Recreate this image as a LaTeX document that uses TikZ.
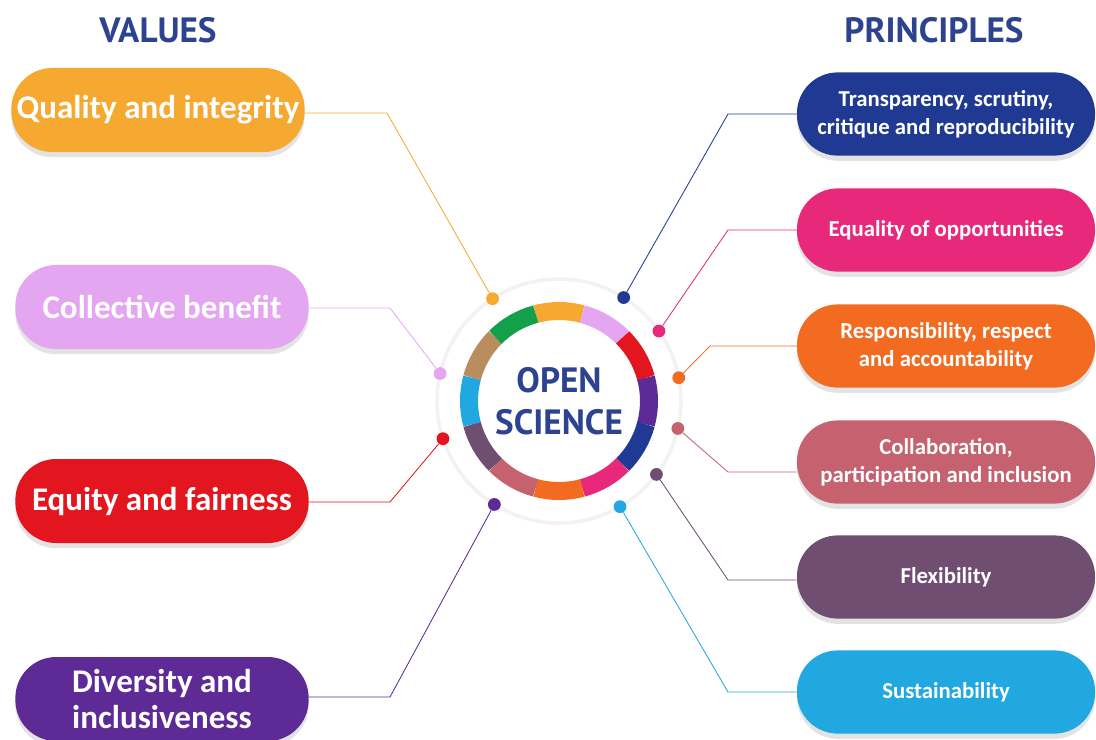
\documentclass[tikz,border=0pt]{standalone}
\usepackage{fontspec}
\setmainfont{Carlito}
\newfontfamily\titlefont{PT Sans}
\usetikzlibrary{shadows}

\definecolor{titleblue}{HTML}{2D4390}
\definecolor{qcol}{HTML}{F5A930}
\definecolor{cbcol}{HTML}{E4A6F0}
\definecolor{efcol}{HTML}{E3151E}
\definecolor{dicol}{HTML}{5E2A95}
\definecolor{trcol}{HTML}{203A94}
\definecolor{eqcol}{HTML}{E8287A}
\definecolor{recol}{HTML}{F26B21}
\definecolor{cocol}{HTML}{C66170}
\definecolor{flcol}{HTML}{6F4E72}
\definecolor{sucol}{HTML}{22A8E0}
\definecolor{gncol}{HTML}{12A04A}
\definecolor{tncol}{HTML}{B98D5E}

\begin{document}
\begin{tikzpicture}[x=0.025cm, y=0.025cm,
		valuebox/.style={rounded corners=1.02cm, minimum width=7.33cm, minimum height=2.1cm,
			text=white, font=\fontsize{23.5}{26}\selectfont\bfseries, align=center,
			drop shadow={opacity=0.22, shadow xshift=0cm, shadow yshift=-0.13cm}},
		principlebox/.style={rounded corners=1.02cm, minimum width=7.45cm, minimum height=2.08cm,
			text=white, font=\fontsize{16.2}{20}\selectfont\bfseries, align=center,
			drop shadow={opacity=0.22, shadow xshift=0cm, shadow yshift=-0.13cm}},
		dot/.style={circle, minimum size=0.32cm, inner sep=0pt},
		link/.style={line width=0.6pt},
		heading/.style={text=titleblue, font=\titlefont\fontsize{25}{30}\selectfont\bfseries}]
	\useasboundingbox (0,0) rectangle (1096,-739);

	% Headings
	\node[heading] (values) at (158,-30) {VALUES};
	\node[heading] (principles) at (934,-30) {PRINCIPLES};

	% Centre ring
	\coordinate (os) at (559,-401);
	\draw[gray!10, line width=2.5pt] (os) circle[radius=122];
	\foreach \a/\c in {90/qcol, 60/cbcol, 30/efcol, 0/dicol, -30/trcol, -60/eqcol,
			-90/recol, -120/cocol, -150/flcol, 180/sucol, 150/tncol, 120/gncol}
		\draw[\c, line width=12.8pt] (os) ++({\a-15}:90) arc[start angle=\a-15, end angle=\a+15, radius=90];
	\node[text=titleblue, font=\titlefont\fontsize{25}{30}\selectfont\bfseries, align=center]
		(osText) at (os) {OPEN\\SCIENCE};

	% Values
	\node[valuebox, fill=qcol] (q) at (158,-110) {Quality and integrity};
	\node[valuebox, fill=cbcol] (cb) at (162,-307) {Collective benefit};
	\node[valuebox, fill=efcol] (ef) at (162,-501) {Equity and fairness};
	\node[valuebox, fill=dicol] (di) at (162,-699) {Diversity and\\inclusiveness};

	% Principles
	\node[principlebox, fill=trcol] (tr) at (946,-114) {Transparency, scrutiny,\\critique and reproducibility};
	\node[principlebox, fill=eqcol] (eq) at (946,-230) {Equality of opportunities};
	\node[principlebox, fill=recol] (re) at (946,-346) {Responsibility, respect\\and accountability};
	\node[principlebox, fill=cocol] (co) at (946,-462) {Collaboration,\\participation and inclusion};
	\node[principlebox, fill=flcol] (fl) at (946,-577) {Flexibility};
	\node[principlebox, fill=sucol] (su) at (946,-692) {Sustainability};

	% Dots on the ring
	\path (os) ++(123:122) node[dot, fill=qcol] (qd) {};
	\path (os) ++(167:122) node[dot, fill=cbcol] (cbd) {};
	\path (os) ++(198:122) node[dot, fill=efcol] (efd) {};
	\path (os) ++(238:122) node[dot, fill=dicol] (did) {};
	\path (os) ++(58:122) node[dot, fill=trcol] (trd) {};
	\path (os) ++(35:122) node[dot, fill=eqcol] (eqd) {};
	\path (os) ++(11:122) node[dot, fill=recol] (red) {};
	\path (os) ++(-13:122) node[dot, fill=cocol] (cod) {};
	\path (os) ++(-37:122) node[dot, fill=flcol] (fld) {};
	\path (os) ++(-60:122) node[dot, fill=sucol] (sud) {};

	% Bends
	\coordinate (qb) at (387,-113);
	\coordinate (cbb) at (390,-308);
	\coordinate (efb) at (390,-502);
	\coordinate (dib) at (390,-697);
	\coordinate (trb) at (728,-114);
	\coordinate (eqb) at (728,-230);
	\coordinate (reb) at (710,-346);
	\coordinate (cob) at (728,-472);
	\coordinate (flb) at (728,-580);
	\coordinate (sub) at (728,-692);

	% Connectors
	\draw[link, qcol] (qd) -- (qb) -- (q.east |- qb);
	\draw[link, cbcol] (cbd) -- (cbb) -- (cb.east |- cbb);
	\draw[link, efcol] (efd) -- (efb) -- (ef.east |- efb);
	\draw[link, dicol] (did) -- (dib) -- (di.east |- dib);
	\draw[link, trcol] (trd) -- (trb) -- (tr.west |- trb);
	\draw[link, eqcol] (eqd) -- (eqb) -- (eq.west |- eqb);
	\draw[link, recol] (red) -- (reb) -- (re.west |- reb);
	\draw[link, cocol] (cod) -- (cob) -- (co.west |- cob);
	\draw[link, flcol] (fld) -- (flb) -- (fl.west |- flb);
	\draw[link, sucol] (sud) -- (sub) -- (su.west |- sub);
\end{tikzpicture}
\end{document}
